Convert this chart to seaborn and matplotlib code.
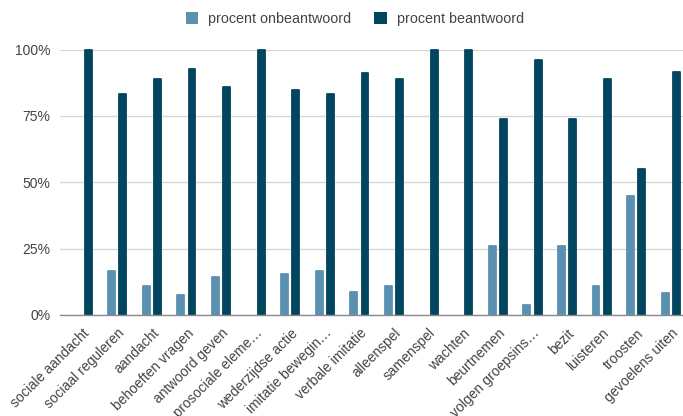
import matplotlib
matplotlib.use("Agg")
import matplotlib.pyplot as plt
import seaborn as sns
import pandas as pd
from matplotlib.ticker import PercentFormatter
from matplotlib.patches import Patch

categories = [
    "sociale aandacht", "sociaal reguleren", "aandacht", "behoeften vragen",
    "antwoord geven", "prosociale eleme…", "wederzijdse actie", "imitatie bewegin…",
    "verbale imitatie", "alleenspel", "samenspel", "wachten", "beurtnemen",
    "volgen groepsins…", "bezit", "luisteren", "troosten", "gevoelens uiten",
]
onbeantwoord = [0, 16.7, 11.1, 7.5, 14.3, 0, 15.3, 16.7, 8.7, 11.1,
                0, 0, 26.0, 3.8, 26.0, 11.1, 45.0, 8.3]
beantwoord = [100, 83.3, 88.9, 92.5, 85.7, 100, 84.7, 83.3, 91.3, 88.9,
              100, 100, 74.0, 96.2, 74.0, 88.9, 55.0, 91.7]
series = ["procent onbeantwoord", "procent beantwoord"]
colors = ["#5a91b0", "#02455f"]

df = pd.DataFrame({
    "categorie": categories * 2,
    "reeks": [series[0]] * len(categories) + [series[1]] * len(categories),
    "waarde": onbeantwoord + beantwoord,
})

sns.set_style("white")
plt.rcParams["font.family"] = ["Liberation Sans", "DejaVu Sans"]

W, H = 683, 416
fig = plt.figure(figsize=(W / 100, H / 100), dpi=100)
ax = fig.add_axes([60 / W, (H - 315) / H, 623 / W, (315 - 49.5) / H])

sns.barplot(data=df, x="categorie", y="waarde", hue="reeks", order=categories,
            hue_order=series, palette=colors, width=0.65, gap=0.39,
            saturation=1, linewidth=0, ax=ax, legend=False)

# soften the bar corners with a thin same-coloured round-joined outline
for p in ax.patches:
    if p.get_height() > 0:
        p.set_edgecolor(p.get_facecolor())
        p.set_linewidth(1.3)
        p.set_joinstyle("round")
    else:
        p.set_visible(False)
    p.set_clip_on(False)

ax.set_ylim(0, 100)
ax.set_xlim(-0.653, 17.35)
ax.set_yticks([0, 25, 50, 75, 100])
ax.yaxis.set_major_formatter(PercentFormatter(decimals=0))
ax.grid(axis="y", color="#d6d6d6", linewidth=0.9)
ax.set_axisbelow(True)
for s in ["top", "right", "left"]:
    ax.spines[s].set_visible(False)
ax.spines["bottom"].set_color("#8a8a8a")
ax.spines["bottom"].set_linewidth(1.0)
ax.spines["bottom"].set_zorder(3)
ax.set_xlabel("")
ax.set_ylabel("")
ax.tick_params(axis="both", length=0, labelsize=10, colors="#444444")
ax.tick_params(axis="y", pad=7)
ax.tick_params(axis="x", pad=8)
plt.setp(ax.get_xticklabels(), rotation=45, ha="right", rotation_mode="anchor")

handles = [Patch(facecolor=c, edgecolor="none") for c in colors]
fig.legend(handles, series, loc="center", bbox_to_anchor=(355 / W, 1 - 19 / H),
           ncol=2, frameon=False, fontsize=10.3, handlelength=0.85, handleheight=0.85,
           handletextpad=0.7, columnspacing=1.6, labelcolor="#444444")

fig.savefig("out.png", dpi=100)
